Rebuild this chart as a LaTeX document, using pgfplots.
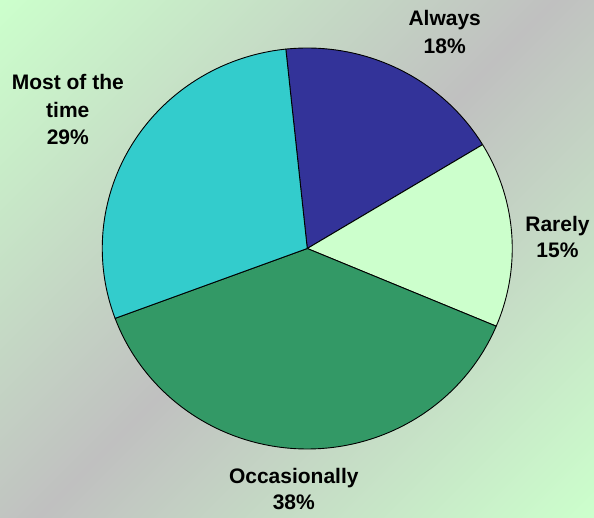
\documentclass[border=0pt]{standalone}
\usepackage{pgfplots}
\pgfplotsset{compat=1.18}
\usepackage{fontspec}
\setmainfont{Liberation Sans}

\definecolor{bggreen}{HTML}{CCFFCC}
\definecolor{bggrey}{HTML}{C0C0C0}
\definecolor{cAlways}{HTML}{333399}
\definecolor{cRarely}{HTML}{CCFFCC}
\definecolor{cOccas}{HTML}{339966}
\definecolor{cMost}{HTML}{33CCCC}

\pgfdeclareverticalshading{bgshade}{100bp}{%
  color(0bp)=(bggreen); color(14.64bp)=(bggreen); color(50bp)=(bggrey);
  color(85.36bp)=(bggreen); color(100bp)=(bggreen)}

% shares in percent, clockwise from the top
\def\pAlways{18}
\def\pRarely{15}
\def\pOccas{38}
\def\pMost{29}

\pgfmathsetmacro\aZero{96}
\pgfmathsetmacro\aOne{\aZero-3.6*\pAlways}
\pgfmathsetmacro\aTwo{\aOne-3.6*\pRarely}
\pgfmathsetmacro\aThree{\aTwo-3.6*\pOccas}
\pgfmathsetmacro\aFour{\aThree-3.6*\pMost}

\begin{document}
\begin{tikzpicture}
\shade[shading=bgshade, shading angle=45] (0pt,0pt) rectangle (594pt,517pt);

\begin{axis}[
    at={(0pt,0pt)}, anchor=south west,
    scale only axis, width=594pt, height=517pt,
    xmin=-1.49878, xmax=1.39878,
    ymin=-1.33915, ymax=1.23940,
    hide axis, clip=false,
    every axis plot/.append style={draw=black, line width=0.9pt, line join=round},
]
\addplot[fill=cAlways, domain=\aOne:\aZero, samples=80, variable=\t]
  ({cos(\t)},{sin(\t)}) -- (axis cs:0,0) -- cycle;
\addplot[fill=cRarely, domain=\aTwo:\aOne, samples=80, variable=\t]
  ({cos(\t)},{sin(\t)}) -- (axis cs:0,0) -- cycle;
\addplot[fill=cOccas, domain=\aThree:\aTwo, samples=120, variable=\t]
  ({cos(\t)},{sin(\t)}) -- (axis cs:0,0) -- cycle;
\addplot[fill=cMost, domain=\aFour:\aThree, samples=100, variable=\t]
  ({cos(\t)},{sin(\t)}) -- (axis cs:0,0) -- cycle;
\end{axis}

\begin{scope}[every node/.style={anchor=base, inner sep=0pt, font=\fontsize{21}{27}\selectfont\bfseries}]
\node at (444.7pt,491pt) {Always};
\node at (444.7pt,463pt) {18\%};
\node at (557.5pt,285pt) {Rarely};
\node at (557.5pt,259pt) {15\%};
\node at (293.8pt,34pt) {Occasionally};
\node at (293.8pt,8pt) {38\%};
\node at (67.8pt,427pt) {Most of the};
\node at (67.8pt,399pt) {time};
\node at (67.8pt,372pt) {29\%};
\end{scope}
\end{tikzpicture}
\end{document}
